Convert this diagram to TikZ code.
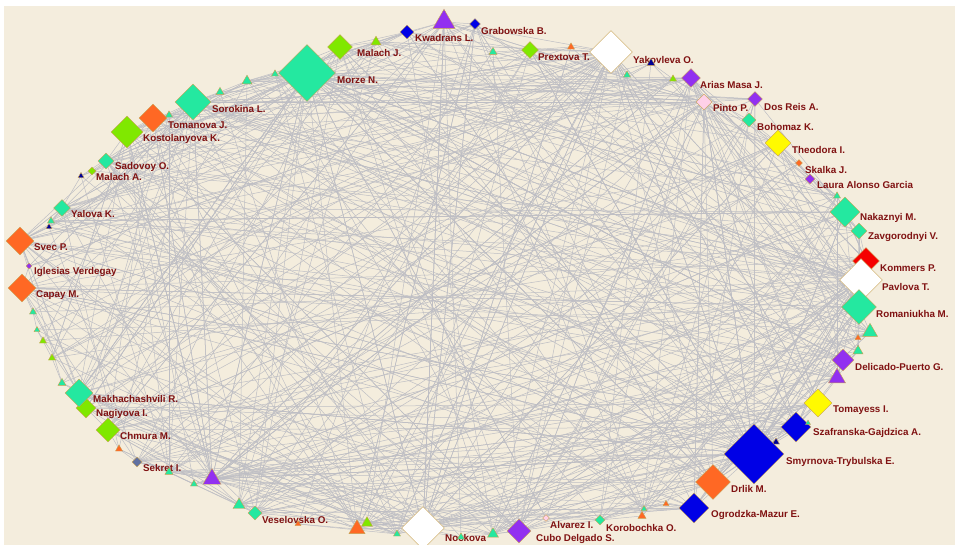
\documentclass[tikz,border=0pt]{standalone}
\usepackage{fontspec}
\setmainfont{Liberation Sans}
\usetikzlibrary{shapes.geometric,backgrounds}
\definecolor{bgc}{RGB}{244,237,221}
\definecolor{edgec}{RGB}{190,190,196}
\definecolor{labc}{RGB}{128,18,18}
\definecolor{bord}{RGB}{200,160,80}
\definecolor{mint}{RGB}{36,232,160}
\definecolor{lime}{RGB}{128,232,0}
\definecolor{orng}{RGB}{255,104,36}
\definecolor{blu}{RGB}{0,0,230}
\definecolor{navy}{RGB}{0,0,150}
\definecolor{purp}{RGB}{146,48,240}
\definecolor{yel}{RGB}{255,250,0}
\definecolor{redd}{RGB}{245,0,0}
\definecolor{wht}{RGB}{255,255,255}
\definecolor{pnk}{RGB}{255,208,232}
\definecolor{gblu}{RGB}{96,112,160}
\tikzset{
  dia/.style={diamond, aspect=1, minimum width=#1, minimum height=#1, inner sep=0pt, draw=bord, line width=0.4pt},
  tri/.style={regular polygon, regular polygon sides=3, minimum size={1.155*#1}, inner sep=0pt, draw=bord, line width=0.4pt},
  edge/.style={draw=edgec, line width=0.5pt},
  lab/.style={anchor=west, inner sep=0pt, text=labc, font=\bfseries\fontsize{9.8}{11}\selectfont}
}
\def\nodelist{1/407/32/14/blu/0/3, 2/444/22/22/purp/1/6, 3/475/24/11/blu/0/2, 4/493/52/8/mint/1/2, 5/530/50/17/lime/0/4, 6/571/47/7/orng/1/2, 7/611/52/43/wht/0/12, 8/627/75/7/mint/1/2, 9/651/63/8/navy/1/2, 10/673/79/7/lime/1/2, 11/691/78/19/purp/0/4, 12/704/102/16/pnk/0/9, 13/755/99/15/purp/0/3, 14/749/120/14/mint/0/3, 15/778/143/26/yel/0/5, 16/799/163/7/orng/0/2, 17/810/179/10/purp/0/2, 18/837/196/7/mint/1/2, 19/845/212/30/mint/0/7, 20/859/231/16/mint/0/3, 21/866/261/27/redd/0/6, 22/861/280/43/wht/0/10, 23/859/307/35/mint/0/8, 24/870/332/15/mint/1/3, 25/858/338/6/orng/1/2, 26/858/351/10/mint/1/2, 27/843/360/22/purp/0/5, 28/837/378/17/purp/1/4, 29/818/403/28/yel/0/6, 30/796/427/30/blu/0/7, 31/808/423/5/mint/1/1, 32/776/442/7/navy/1/2, 33/754/454/60/blu/0/16, 34/713/482/35/orng/0/8, 35/694/508/30/blu/0/7, 36/666/504/6/orng/1/2, 37/644/509/6/mint/1/2, 38/642/516/8/orng/1/2, 39/600/520/10/mint/0/3, 40/546/518/7/pnk/0/2, 41/519/531/24/purp/0/6, 42/493/534/11/mint/1/3, 43/461/537/7/mint/1/2, 44/423/528/43/wht/0/10, 45/397/534/7/mint/1/2, 46/367/523/11/lime/1/3, 47/357/529/16/orng/1/4, 48/298/524/6/orng/1/2, 49/255/513/14/mint/0/3, 50/239/505/12/mint/1/3, 51/212/479/18/purp/1/11, 52/194/484/7/mint/1/2, 53/169/472/8/mint/1/2, 54/137/462/10/gblu/0/3, 55/119/449/7/orng/1/2, 56/108/430/24/lime/0/6, 57/86/408/20/lime/0/5, 58/79/393/28/mint/0/7, 59/62/383/8/mint/1/2, 60/52/358/7/lime/1/2, 61/43/341/7/lime/1/2, 62/37/330/6/mint/1/2, 63/33/312/7/mint/1/2, 64/22/288/28/orng/0/7, 65/29/266/6/purp/0/2, 66/20/241/28/orng/0/7, 67/49/227/6/navy/1/2, 68/51/221/7/mint/1/2, 69/62/208/17/mint/0/4, 70/81/176/6/navy/1/2, 71/92/171/8/lime/0/2, 72/106/161/16/mint/0/4, 73/127/132/32/lime/0/7, 74/153/118/28/orng/0/6, 75/169/115/7/mint/1/2, 76/193/102/36/mint/0/9, 77/220/92/8/mint/1/2, 78/247/81/10/mint/1/3, 79/275/74/7/mint/1/2, 80/307/73/57/mint/0/16, 81/340/47/25/lime/0/6, 82/376/42/10/lime/1/3}
\pgfmathdeclarerandomlist{hubs}{{7}{7}{7}{22}{22}{22}{33}{33}{33}{33}{44}{44}{44}{80}{80}{80}{80}{23}{23}{34}{34}{76}{76}{19}{21}{30}{35}{29}{73}{74}{64}{66}{58}{56}{41}{81}{2}{51}{51}{12}{12}{15}{27}{28}{57}{69}{72}{11}{5}{1}{49}{54}{47}{20}{14}{13}{24}{39}{42}{46}{50}{82}{78}{3}{10}{18}{26}{37}{45}{53}{60}{68}}
\pgfmathsetseed{4242}
\begin{document}
\begin{tikzpicture}[x=1pt,y=-1pt]
\useasboundingbox (0,0) rectangle (955,545);
% labels
\foreach \i/\x/\y/\t in {1/415/38/Kwadrans L., 3/481/31/Grabowska B., 81/357/53/Malach J., 80/337/80/Morze N., 76/212/109/Sorokina L., 74/168/125/Tomanova J., 73/143/139/Kostolanyova K., 72/115/167/Sadovoy O., 71/96/177/Malach A., 69/71/214/Yalova K., 66/34/247/Svec P., 65/34/272/Iglesias Verdegay, 64/36/295/Capay M., 58/93/399/Makhachashvili R., 57/96/414/Nagiyova I., 56/120/436/Chmura M., 54/143/468/Sekret I., 49/262/520/Veselovska O., 44/445/538/Nockova, 41/536/539/Cubo Delgado S., 40/550/525/Alvarez I., 39/606/528/Korobochka O., 35/711/515/Ogrodzka-Mazur E., 34/731/489/Drlik M., 33/786/462/Smyrnova-Trybulska E., 30/813/433/Szafranska-Gajdzica A., 29/833/410/Tomayess I., 27/855/367/Delicado-Puerto G., 23/876/314/Romaniukha M., 22/882/287/Pavlova T., 21/880/268/Kommers P., 20/868/237/Zavgorodnyi V., 19/860/218/Nakaznyi M., 17/817/185/Laura Alonso Garcia, 16/805/170/Skalka J., 15/792/150/Theodora I., 14/757/127/Bohomaz K., 13/764/107/Dos Reis A., 12/713/108/Pinto P., 11/700/85/Arias Masa J., 7/633/60/Yakovleva O., 5/538/57/Prextova T.}
  \node[lab] (l\i) at (\x,\y) {\t};
% nodes
\foreach \i/\x/\y/\w/\c/\s/\d in \nodelist {
  \ifnum\s=0
    \node[dia=\w, fill=\c] (n\i) at (\x,\y) {};
  \else
    \node[tri=\w, fill=\c] (n\i) at (\x,\y) {};
  \fi
}
% connectors
\begin{pgfonlayer}{background}
  \fill[bgc] (4,6) rectangle (955,545);
  \foreach \i [evaluate=\i as \nx using {int(mod(\i,82)+1)}] in {1,...,82}
    \draw[edge] (n\i.center) -- (n\nx.center);
  \foreach \i/\x/\y/\w/\c/\s/\d in \nodelist {
    \pgfmathtruncatemacro{\dd}{round(1.8*\d)}
    \foreach \k in {1,...,\dd} {
      \pgfmathrandomitem{\j}{hubs}
      \ifnum\j=\i\relax\else
        \draw[edge] (n\i.center) -- (n\j.center);
      \fi
    }
  }
\end{pgfonlayer}
\end{tikzpicture}
\end{document}
